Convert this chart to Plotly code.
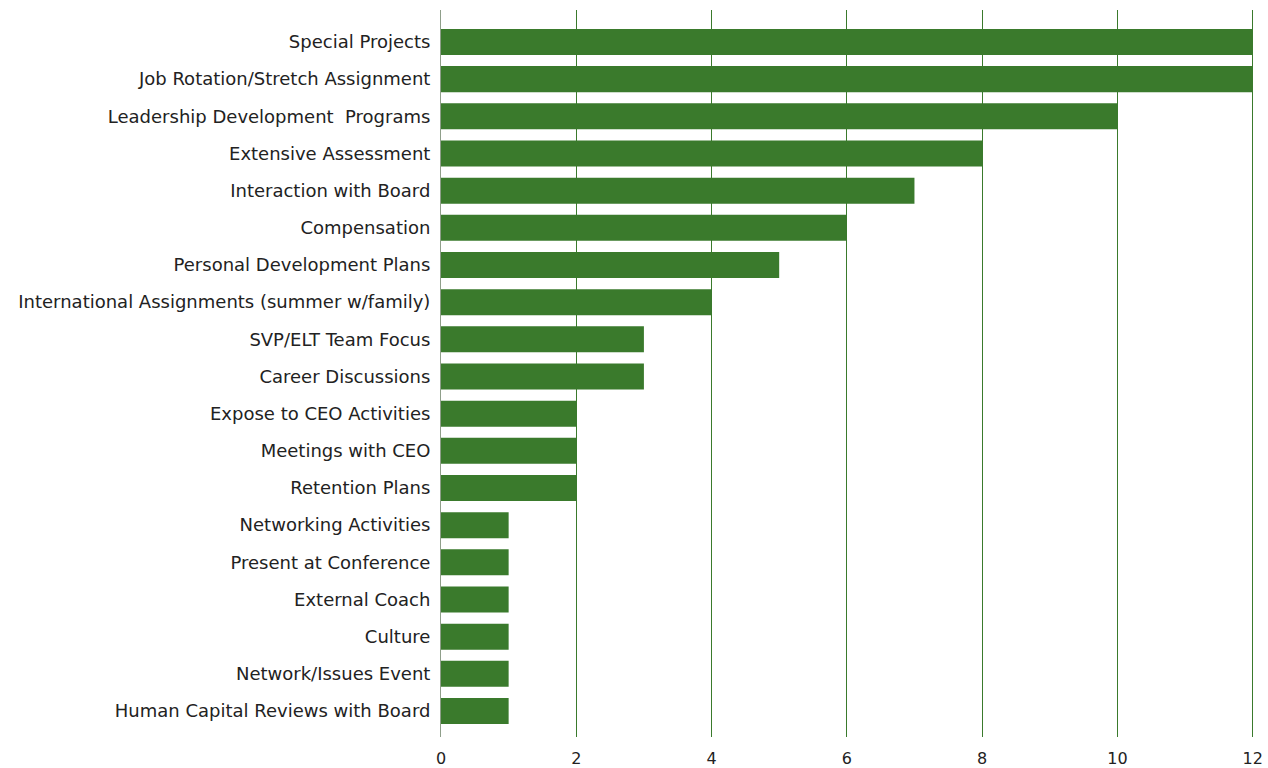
import plotly.graph_objects as go

# Development practices, listed top to bottom, with counts of responses
categories = [
    "Special Projects",
    "Job Rotation/Stretch Assignment",
    "Leadership Development  Programs",
    "Extensive Assessment",
    "Interaction with Board",
    "Compensation",
    "Personal Development Plans",
    "International Assignments (summer w/family)",
    "SVP/ELT Team Focus",
    "Career Discussions",
    "Expose to CEO Activities",
    "Meetings with CEO",
    "Retention Plans",
    "Networking Activities",
    "Present at Conference",
    "External Coach",
    "Culture",
    "Network/Issues Event",
    "Human Capital Reviews with Board",
]
counts = [12, 12, 10, 8, 7, 6, 5, 4, 3, 3, 2, 2, 2, 1, 1, 1, 1, 1, 1]
x_ticks = [0, 2, 4, 6, 8, 10, 12]

GREEN = "#3a7a2c"
FONT = "DejaVu Sans, Noto Sans, sans-serif"

# Plotly draws categories bottom-up, so reverse for a top-down list
ys = categories[::-1]
xs = counts[::-1]

fig = go.Figure(
    go.Bar(
        x=xs,
        y=ys,
        orientation="h",
        marker=dict(color=GREEN, line=dict(width=0)),
        hoverinfo="x+y",
    )
)

fig.update_layout(
    width=1268,
    height=768,
    margin=dict(l=441, r=14, t=10, b=31, autoexpand=False),
    paper_bgcolor="white",
    plot_bgcolor="white",
    bargap=0.30,
    showlegend=False,
    font=dict(family=FONT, color="#222222", size=16),
)

fig.update_xaxes(
    range=[0, 12.02],
    tickvals=x_ticks,
    ticktext=[str(t) for t in x_ticks],
    showgrid=True,
    gridcolor=GREEN,
    gridwidth=1,
    zeroline=False,
    showline=False,
    ticks="",
    automargin=False,
    ticklabelstandoff=10,
    tickfont=dict(size=16, color="#222222"),
)

fig.update_yaxes(
    type="category",
    categoryorder="array",
    categoryarray=ys,
    range=[-0.7, 18.86],
    showgrid=False,
    zeroline=False,
    showline=True,
    linecolor="#8f9f8a",
    linewidth=1,
    ticks="",
    automargin=False,
    ticklabelstandoff=6,
    tickfont=dict(size=18, color="#222222"),
)

fig.write_html("out.html")
